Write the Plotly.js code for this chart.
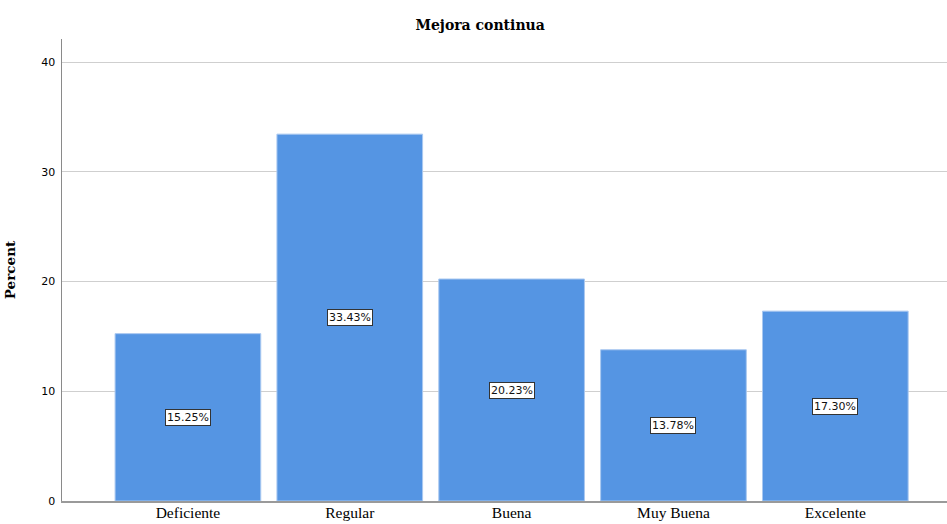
<!DOCTYPE html>
<html>
<head>
<meta charset="utf-8">
<script src="https://cdn.plot.ly/plotly-3.0.1.min.js"></script>
<style>
  html, body { margin: 0; padding: 0; background: #ffffff; }
  #chart { width: 947px; height: 524px; }
</style>
</head>
<body>
<div id="chart"></div>
<script>
// Categories and percentages for "Mejora continua"
const categories = ["Deficiente", "Regular", "Buena", "Muy Buena", "Excelente"];
const percents = [15.25, 33.43, 20.23, 13.78, 17.30];
const yTicks = [0, 10, 20, 30, 40];

const barColor = "#5595e3";

const trace = {
  type: "bar",
  x: categories,
  y: percents,
  width: 0.9,
  marker: { color: barColor, line: { color: "#a9c8f0", width: 1 } },
  hoverinfo: "x+y"
};

// Boxed percentage labels at half the bar height
const labels = categories.map((c, i) => ({
  x: c,
  y: percents[i] / 2,
  xref: "x",
  yref: "y",
  text: percents[i].toFixed(2) + "%",
  showarrow: false,
  font: { family: "DejaVu Sans", size: 11, color: "#111111" },
  bgcolor: "#ffffff",
  bordercolor: "#333333",
  borderwidth: 1,
  borderpad: 1
}));

const layout = {
  width: 947,
  height: 524,
  margin: { l: 62, r: 0, t: 39, b: 23 },
  paper_bgcolor: "#ffffff",
  plot_bgcolor: "#ffffff",
  showlegend: false,
  bargap: 0.1,
  title: {
    text: "<b>Mejora continua</b>",
    font: { family: "DejaVu Serif", size: 14, color: "#000000" },
    x: 0.507,
    xref: "container",
    xanchor: "center",
    y: 0.953,
    yref: "container",
    yanchor: "middle"
  },
  xaxis: {
    type: "category",
    range: [-0.778, 4.69],
    showgrid: false,
    showline: true,
    linecolor: "#9a9a9a",
    linewidth: 1.5,
    ticks: "",
    ticklabelstandoff: -3,
    tickfont: { family: "Liberation Serif", size: 15.5, color: "#000000" },
    zeroline: false
  },
  yaxis: {
    range: [0, 42.1],
    tickvals: yTicks,
    ticktext: yTicks.map(String),
    showgrid: true,
    gridcolor: "#cfcfcf",
    gridwidth: 1,
    showline: true,
    linecolor: "#8a8a8a",
    linewidth: 1.5,
    ticks: "outside",
    ticklen: 3,
    tickcolor: "rgba(0,0,0,0)",
    tickfont: { family: "DejaVu Sans", size: 11, color: "#000000" },
    zeroline: false,
    title: {
      text: "<b>Percent</b>",
      font: { family: "DejaVu Serif", size: 13.5, color: "#000000" },
      standoff: 22
    }
  },
  annotations: labels
};

Plotly.newPlot("chart", [trace], layout, { displayModeBar: false, staticPlot: true });
</script>
</body>
</html>
